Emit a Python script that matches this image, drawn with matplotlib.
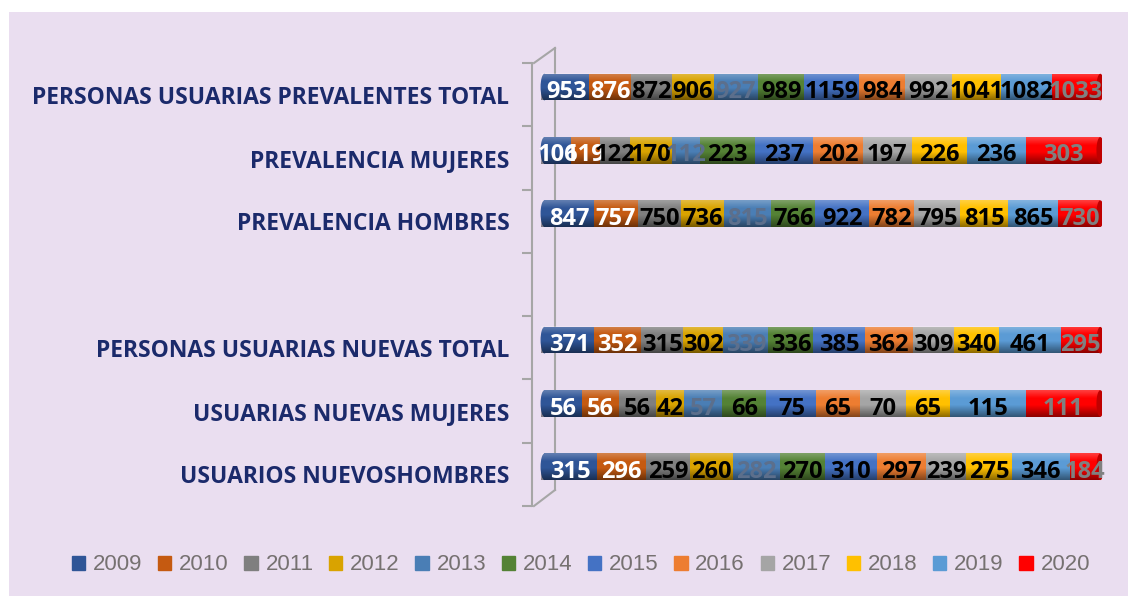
import numpy as np
import matplotlib.pyplot as plt
from matplotlib.patches import Ellipse, Rectangle
from matplotlib.lines import Line2D

# categorias de abajo hacia arriba ('' = fila vacia)
categorias = ['USUARIOS NUEVOSHOMBRES', 'USUARIAS NUEVAS MUJERES',
              'PERSONAS USUARIAS NUEVAS TOTAL', '',
              'PREVALENCIA HOMBRES', 'PREVALENCIA MUJERES',
              'PERSONAS USUARIAS PREVALENTES TOTAL']
anios = ['2009', '2010', '2011', '2012', '2013', '2014',
         '2015', '2016', '2017', '2018', '2019', '2020']

nuevos_hombres = [315, 296, 259, 260, 282, 270, 310, 297, 239, 275, 346, 184]
nuevas_mujeres = [56, 56, 56, 42, 57, 66, 75, 65, 70, 65, 115, 111]
nuevas_total = [371, 352, 315, 302, 339, 336, 385, 362, 309, 340, 461, 295]
prev_hombres = [847, 757, 750, 736, 815, 766, 922, 782, 795, 815, 865, 730]
prev_mujeres = [106, 119, 122, 170, 112, 223, 237, 202, 197, 226, 236, 303]
prev_total = [953, 876, 872, 906, 927, 989, 1159, 984, 992, 1041, 1082, 1033]

filas = [nuevos_hombres, nuevas_mujeres, nuevas_total, None,
         prev_hombres, prev_mujeres, prev_total]

colores = ['#2F5597', '#C55A11', '#7F7F7F', '#D9A300', '#4A7EB5', '#548235',
           '#4472C4', '#ED7D31', '#A5A5A5', '#FFC000', '#5B9BD5', '#FF0000']
col_etiq = ['white', 'white', 'black', 'black', '#5C6F8C', 'black',
            'black', 'black', 'black', 'black', 'black', '#808080']

fondo = '#EADEF0'
W, H = 1128, 596

fig = plt.figure(figsize=(W / 100, H / 100), dpi=100, facecolor='white')
fig.patches.append(Rectangle((9 / W, 0), 1, 1 - 12 / H, transform=fig.transFigure,
                             facecolor=fondo, edgecolor='none', zorder=-10))

ax = fig.add_axes([540 / W, 1 - 506 / H, 562 / W, 443 / H])
ax.set_facecolor('none')
for s in ['top', 'right', 'bottom']:
    ax.spines[s].set_visible(False)
ax.spines['left'].set_position(('outward', 6))
ax.spines['left'].set_color('#A6A6A6')
ax.spines['left'].set_linewidth(1.5)

alto = 0.42
desp = 0.12
grad = np.zeros((40, 1, 4))
t = np.linspace(0, 1, 40)
grad[:, 0, 3] = np.where(t < 0.3, 0.25 * (1 - t / 0.3), 0.0) + np.where(t > 0.55, 0.45 * (t - 0.55) / 0.45, 0.0)
grad[:, 0, :3] = np.where(t < 0.4, 1.0, 0.0)[:, None]

for i, vals in enumerate(filas):
    if vals is None:
        continue
    y = i + desp
    v = np.array(vals, dtype=float)
    frac = v / v.sum()
    izq = 0.0
    ax.add_patch(Ellipse((0, y), 0.014, alto, facecolor=colores[0], zorder=1.5))
    for j in range(len(anios)):
        ax.barh(y, frac[j], left=izq, height=alto, color=colores[j], zorder=2)
        izq += frac[j]
    ax.add_patch(Ellipse((1, y), 0.014, alto, facecolor='#C00000', zorder=4))
    ax.imshow(grad, extent=[-0.007, 1, y - alto / 2, y + alto / 2], aspect='auto', zorder=3)
    izq = 0.0
    for j in range(len(anios)):
        ax.text(izq + frac[j] / 2, y - 0.08, str(vals[j]), ha='center', va='center',
                fontsize=17, fontweight='bold', color=col_etiq[j],
                family=['Open Sans', 'DejaVu Sans'], zorder=5)
        izq += frac[j]

ax.set_xlim(-0.008, 1.003)
ax.set_ylim(-0.5, 6.5)
ax.set_xticks([])
ax.set_yticks(range(len(categorias)))
ax.set_yticklabels(categorias, fontsize=16.5, fontweight='bold', color='#1B2A6B',
                   family=['Open Sans', 'DejaVu Sans'])
ax.set_yticks(np.arange(-0.5, 7, 1), minor=True)
ax.tick_params(axis='y', which='major', length=0, pad=16)
ax.tick_params(axis='y', which='minor', length=7, color='#A6A6A6', width=1.5)

# pared 3D detras de las barras
for (x0, y0, x1, y1) in [(555, 48, 555, 490), (534, 63, 555, 48), (534, 506, 555, 490)]:
    ax.add_line(Line2D([x0 / W, x1 / W], [1 - y0 / H, 1 - y1 / H], transform=fig.transFigure,
                       color='#A6A6A6', lw=1.5, clip_on=False, zorder=0.5))

handles = [Rectangle((0, 0), 1, 1, color=c) for c in colores]
fig.legend(handles, anios, loc='center', bbox_to_anchor=(0.515, 1 - 565 / H), ncol=12,
           frameon=False, handlelength=0.6, handleheight=0.6,
           handletextpad=0.35, columnspacing=0.7, labelcolor='#767171',
           prop={'family': ['Liberation Sans', 'DejaVu Sans'], 'size': 16})

fig.savefig('out.png', dpi=100, facecolor='white')
